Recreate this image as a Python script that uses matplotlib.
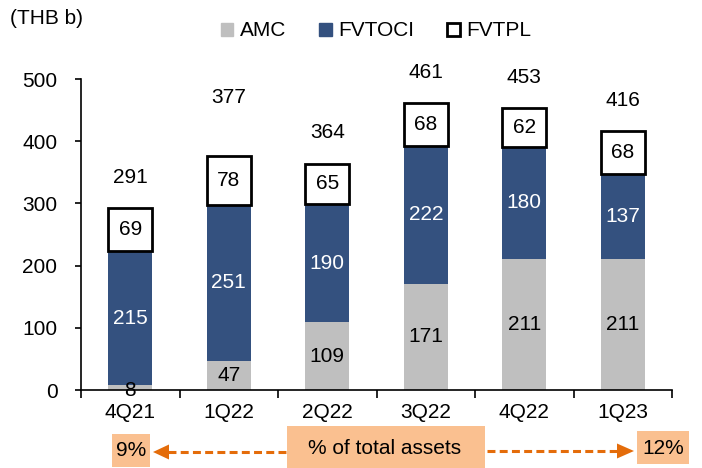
import matplotlib
matplotlib.use("Agg")
import matplotlib.pyplot as plt
import numpy as np
from matplotlib.patches import Patch, Rectangle, Polygon

plt.rcParams['font.family'] = ['Liberation Sans', 'DejaVu Sans']

categories = ["4Q21", "1Q22", "2Q22", "3Q22", "4Q22", "1Q23"]
amc = [8, 47, 109, 171, 211, 211]
fvtoci = [215, 251, 190, 222, 180, 137]
fvtpl = [69, 78, 65, 68, 62, 68]
totals = [291, 377, 364, 461, 453, 416]
share_start = "9%"
share_end = "12%"
share_label = "% of total assets"

C_AMC = "#BFBFBF"
C_OCI = "#34517F"
C_ORANGE = "#E46C0A"
C_FILL = "#FAC090"

W, H = 702, 468
fig = plt.figure(figsize=(W / 100, H / 100), dpi=100)
ax = fig.add_axes([81 / W, 1 - 390 / H, (672 - 81) / W, (390 - 79) / H])

x = np.arange(len(categories))
w = 0.45
amc_a = np.array(amc)
oci_a = np.array(fvtoci)
tpl_a = np.array(fvtpl)

ax.bar(x, amc_a, w, color=C_AMC, label="AMC")
ax.bar(x, oci_a, w, bottom=amc_a, color=C_OCI, label="FVTOCI")
ax.bar(x, tpl_a, w, bottom=amc_a + oci_a, color="white", edgecolor="black",
       linewidth=2.0, label="FVTPL")

fs = 15
for i in range(len(x)):
    ax.text(x[i], amc_a[i] / 2 if amc_a[i] > 20 else 0, str(amc[i]),
            ha="center", va="center", fontsize=fs, color="black")
    ax.text(x[i], amc_a[i] + oci_a[i] / 2, str(fvtoci[i]),
            ha="center", va="center", fontsize=fs, color="white")
    ax.text(x[i], amc_a[i] + oci_a[i] + tpl_a[i] / 2, str(fvtpl[i]),
            ha="center", va="center", fontsize=fs, color="black")
    off = 94 if i == 1 else 50
    ax.text(x[i], totals[i] + off, str(totals[i]),
            ha="center", va="center", fontsize=fs, color="black")

ax.set_xlim(-0.5, len(x) - 0.5)
ax.set_ylim(0, 500)
ax.set_yticks(range(0, 501, 100))
ax.set_xticks(x)
ax.set_xticklabels(categories)
ax.set_xticks(np.arange(-0.5, len(x), 1.0), minor=True)
ax.tick_params(axis="x", which="major", length=0, labelsize=fs, pad=9)
ax.tick_params(axis="x", which="minor", length=6, width=1.2, direction="out")
ax.tick_params(axis="y", length=4, width=1.2, direction="out", labelsize=fs, pad=13)
for s in ["top", "right"]:
    ax.spines[s].set_visible(False)
ax.spines["left"].set_linewidth(1.2)
ax.spines["bottom"].set_linewidth(1.2)

handles = [Patch(facecolor=C_AMC, edgecolor=C_AMC),
           Patch(facecolor=C_OCI, edgecolor=C_OCI),
           Patch(facecolor="white", edgecolor="black", linewidth=2)]
fig.legend(handles, ["AMC", "FVTOCI", "FVTPL"], loc="center",
           bbox_to_anchor=(376 / W, 1 - 31 / H), ncol=3, frameon=False, fontsize=fs,
           handlelength=0.6, handleheight=0.6, handletextpad=0.3, columnspacing=1.6,
           borderaxespad=0, borderpad=0)

fig.text(10 / W, 1 - 18 / H, "(THB b)", fontsize=fs, ha="left", va="center")


# bottom annotation (pixel coords converted to figure fraction)
def fx(px):
    return px / W


def fy(py):
    return 1 - py / H


def box(x0, x1, y0, y1):
    fig.add_artist(Rectangle((fx(x0), fy(y1)), fx(x1) - fx(x0), fy(y0) - fy(y1),
                             transform=fig.transFigure, fc=C_FILL, ec="none"))


box(112, 150, 434, 467)
box(287, 485, 426, 470)
box(637, 689, 431, 464)
fig.text(fx(131), fy(451), share_start, fontsize=fs, ha="center", va="center")
fig.text(fx(385), fy(449), share_label, fontsize=fs, ha="center", va="center")
fig.text(fx(663), fy(448), share_end, fontsize=fs, ha="center", va="center")

dash = (0, (2.6, 1.4))
fig.add_artist(plt.Line2D([fx(168), fx(287)], [fy(452), fy(452)], transform=fig.transFigure,
                          color=C_ORANGE, lw=2.2, ls=dash))
fig.add_artist(plt.Line2D([fx(487), fx(617)], [fy(451), fy(451)], transform=fig.transFigure,
                          color=C_ORANGE, lw=2.2, ls=dash))
fig.add_artist(Polygon([(fx(153), fy(452)), (fx(169), fy(444.5)), (fx(169), fy(459.5))],
                       closed=True, transform=fig.transFigure, fc=C_ORANGE, ec="none"))
fig.add_artist(Polygon([(fx(634), fy(451)), (fx(617), fy(443.5)), (fx(617), fy(458.5))],
                       closed=True, transform=fig.transFigure, fc=C_ORANGE, ec="none"))

fig.savefig("out.png", dpi=100)
